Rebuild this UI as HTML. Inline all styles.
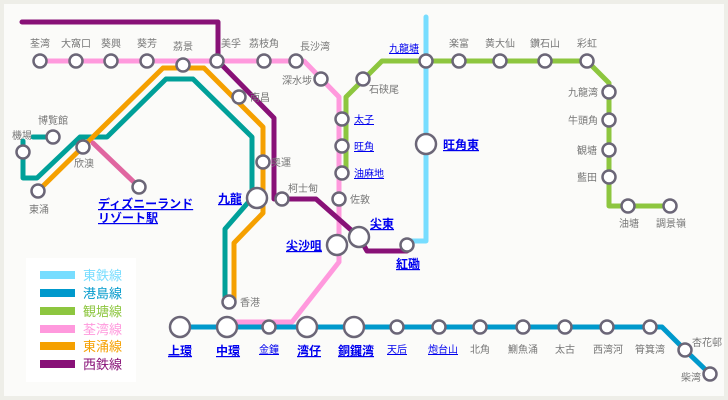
<!DOCTYPE html>
<html><head><meta charset="utf-8"><style>
html,body{margin:0;padding:0;background:#eeeee8;}
svg{display:block;font-family:"Liberation Sans","Noto Sans CJK JP",sans-serif;}
.g{fill:#777;font-size:10px;}
.b{fill:#0000ee;font-size:10px;text-decoration:underline;}
.bb{fill:#0000ee;font-size:12px;font-weight:bold;text-decoration:underline;}
.s{fill:#fff;stroke:#6b6677;stroke-width:2.5;}
.L{fill:none;stroke-width:5;stroke-linejoin:round;stroke-linecap:round;}
</style></head><body>
<svg width="728" height="400" viewBox="0 0 728 400">
<rect x="0" y="0" width="728" height="400" fill="#eeeee8"/>
<rect x="4" y="4" width="720" height="392" fill="#fbfbf9"/>
<!-- legend -->
<rect x="26" y="258" width="110" height="124" fill="#fff"/>
<rect x="40" y="271" width="35" height="8" fill="#77ddff"/><text x="83" y="280" font-size="13" fill="#77ddff">東鉄線</text>
<rect x="40" y="289" width="35" height="8" fill="#0099cc"/><text x="83" y="298" font-size="13" fill="#0099cc">港島線</text>
<rect x="40" y="307" width="35" height="8" fill="#8dc63f"/><text x="83" y="316" font-size="13" fill="#8dc63f">観塘線</text>
<rect x="40" y="325" width="35" height="8" fill="#ff99dd"/><text x="83" y="334" font-size="13" fill="#ff99dd">荃湾線</text>
<rect x="40" y="342" width="35" height="8" fill="#f5a000"/><text x="83" y="351" font-size="13" fill="#f5a000">東涌線</text>
<rect x="40" y="360" width="35" height="8" fill="#881177"/><text x="83" y="369" font-size="13" fill="#881177">西鉄線</text>
<!-- lines -->
<polyline class="L" stroke="#77ddff" points="426,17 426,241 407,241"/>
<polyline class="L" stroke="#0099cc" points="180,327 650,327 662,327 685,350 710,374"/>
<polyline class="L" stroke="#8dc63f" points="346,176 346,97 382,61 587,61 609,83 609,206 670,206"/>
<polyline class="L" stroke="#ff99dd" points="40,61 304,61 339,97 339,262 292,322 227,322"/>
<polyline class="L" stroke="#00a099" points="33,137 53,137"/>
<polyline class="L" stroke="#00a099" points="23,141 23,178 37,178 80,137 107,137 166,79 193,79 252,137 252,198 225,229 225,300"/>
<polyline class="L" stroke="#f5a000" points="38,191 163,68 204,68 263,127 263,213 234,243 234,300"/>
<polyline class="L" stroke="#e066a0" points="93,143 139,187"/>
<polyline class="L" stroke="#881177" points="22,22 218,22 218,61 274,118 274,199 316,199 359,237 367,251 407,251"/>
<!-- stations -->
<g class="s">
<circle cx="40" cy="61" r="6.5"/><circle cx="76" cy="61" r="6.5"/><circle cx="111" cy="61" r="6.5"/><circle cx="147" cy="61" r="6.5"/><circle cx="183" cy="65" r="6.5"/><circle cx="217" cy="61" r="6.5"/><circle cx="264" cy="61" r="6.5"/><circle cx="296" cy="61" r="6.5"/><circle cx="321" cy="79" r="6.5"/>
<circle cx="342" cy="119" r="6.5"/><circle cx="342" cy="146" r="6.5"/><circle cx="342" cy="173" r="6.5"/><circle cx="339" cy="199" r="6.5"/>
<circle cx="363" cy="79" r="6.5"/><circle cx="426" cy="61" r="6.5"/><circle cx="459" cy="61" r="6.5"/><circle cx="500" cy="61" r="6.5"/><circle cx="545" cy="61" r="6.5"/><circle cx="587" cy="61" r="6.5"/>
<circle cx="609" cy="92" r="6.5"/><circle cx="609" cy="120" r="6.5"/><circle cx="609" cy="150" r="6.5"/><circle cx="609" cy="177" r="6.5"/><circle cx="628" cy="206" r="6.5"/><circle cx="670" cy="206" r="6.5"/>
<circle cx="426" cy="144" r="10"/>
<circle cx="239" cy="97" r="6.5"/><circle cx="263" cy="162" r="6.5"/><circle cx="257" cy="198" r="10"/><circle cx="282" cy="199" r="6.5"/>
<circle cx="337" cy="245" r="10"/><circle cx="359" cy="237" r="10"/><circle cx="407" cy="245" r="6.5"/>
<circle cx="229" cy="302" r="6.5"/>
<circle cx="23" cy="152" r="6.5"/><circle cx="53" cy="137" r="6.5"/><circle cx="83" cy="147" r="6.5"/><circle cx="38" cy="191" r="6.5"/><circle cx="139" cy="187" r="6.5"/>
<circle cx="180" cy="327" r="10"/><circle cx="227" cy="327" r="10"/><circle cx="269" cy="327" r="6.5"/><circle cx="307" cy="327" r="10"/><circle cx="354" cy="327" r="10"/>
<circle cx="397" cy="327" r="6.5"/><circle cx="439" cy="327" r="6.5"/><circle cx="480" cy="327" r="6.5"/><circle cx="523" cy="327" r="6.5"/><circle cx="565" cy="327" r="6.5"/><circle cx="607" cy="327" r="6.5"/><circle cx="650" cy="327" r="6.5"/>
<circle cx="685" cy="350" r="6.5"/><circle cx="710" cy="374" r="6.5"/>
</g>
<!-- labels -->
<g class="g">
<text x="30" y="47">荃湾</text><text x="61" y="47">大窩口</text><text x="101" y="47">葵興</text><text x="137" y="47">葵芳</text><text x="173" y="50">茘景</text>
<text x="221" y="47">美孚</text><text x="249" y="47">茘枝角</text><text x="300" y="50">長沙湾</text><text x="282" y="84">深水埗</text>
<text x="369" y="93">石硖尾</text><text x="449" y="47">楽富</text><text x="485" y="47">黄大仙</text><text x="530" y="47">鑽石山</text><text x="577" y="47">彩虹</text>
<text x="568" y="96">九龍湾</text><text x="568" y="124">牛頭角</text><text x="577" y="154">観塘</text><text x="577" y="181">藍田</text>
<text x="619" y="227">油塘</text><text x="656" y="227">調景嶺</text>
<text x="250" y="101">南昌</text><text x="271" y="166">奥運</text><text x="288" y="192">柯士甸</text><text x="350" y="203">佐敦</text>
<text x="240" y="306">香港</text>
<text x="12" y="139">機場</text><text x="38" y="124">博覧館</text><text x="74" y="167">欣澳</text><text x="29" y="213">東涌</text>
<text x="470" y="353">北角</text><text x="508" y="353">鰂魚涌</text><text x="555" y="353">太古</text><text x="593" y="353">西湾河</text><text x="635" y="353">筲箕湾</text>
<text x="692" y="346">杏花邨</text><text x="681" y="381">柴湾</text>
</g>
<g class="b">
<text x="389" y="52">九龍塘</text><text x="354" y="123">太子</text><text x="354" y="150">旺角</text><text x="354" y="177">油麻地</text>
<text x="259" y="353">金鐘</text><text x="387" y="353">天后</text><text x="428" y="353">炮台山</text>
</g>
<g class="bb">
<text x="443" y="149">旺角東</text><text x="218" y="203">九龍</text><text x="370" y="228">尖東</text><text x="286" y="250">尖沙咀</text><text x="396" y="268">紅磡</text>
<text x="98" y="208">ディズニーランド</text><text x="98" y="222">リゾート駅</text>
<text x="168" y="355">上環</text><text x="216" y="355">中環</text><text x="297" y="355">湾仔</text><text x="338" y="355">銅鑼湾</text>
</g>
</svg>
</body></html>
